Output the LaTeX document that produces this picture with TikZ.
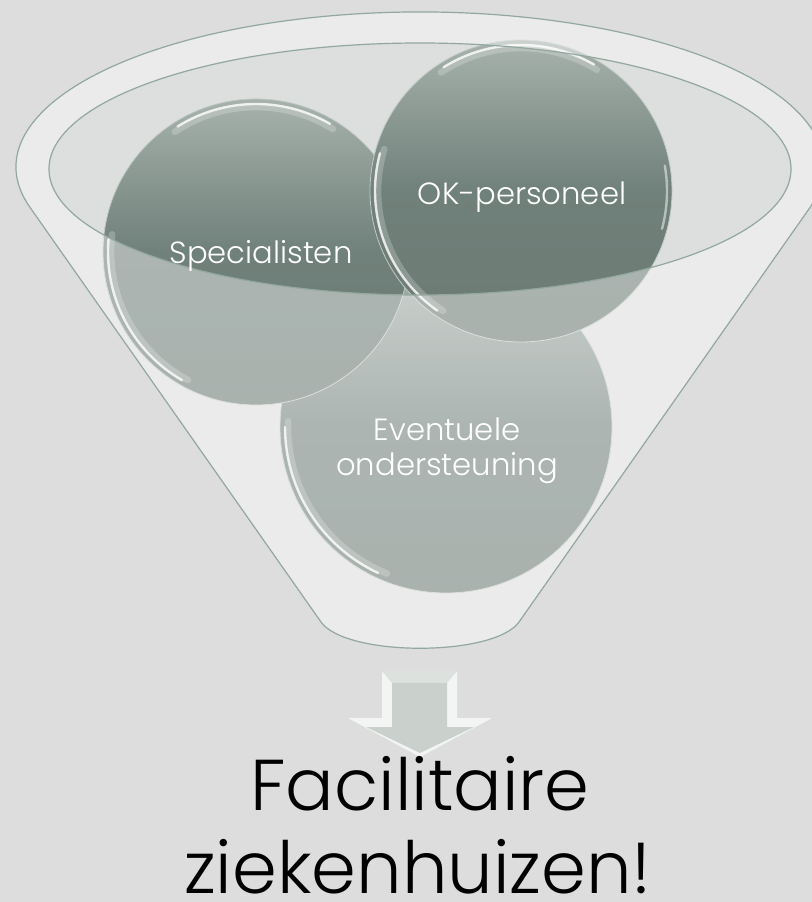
\documentclass[tikz,border=0pt]{standalone}
\usepackage{fontspec}
\setmainfont{Poppins}[UprightFont={* Light}]
\definecolor{bg}{HTML}{DDDDDD}
\definecolor{inside}{HTML}{DCDFDD}
\definecolor{bubtop}{HTML}{A7B2AC}
\definecolor{bubmid}{HTML}{70807A}
\definecolor{bubbot}{HTML}{6C7B73}
\definecolor{edgecol}{HTML}{92A79E}
\definecolor{arrface}{HTML}{CAD1CD}
\definecolor{arrtop}{HTML}{DCE1DE}
\definecolor{arrbevel}{HTML}{F3F5F4}
\begin{document}
\begin{tikzpicture}[x=0.75pt,y=-0.75pt,
  bubble/.style={circle, inner sep=0pt, outer sep=0pt, draw=bubtop!70!white, line width=0.6pt,
    top color=bubtop, bottom color=bubbot, middle color=bubmid},
  hl/.style={draw=white, line width=1.8pt, opacity=0.8, line cap=round},
  glow/.style={draw=white, line width=5pt, opacity=0.22, line cap=round},
  edge/.style={draw=edgecol, line width=0.9pt},
  clabel/.style={text=white, inner sep=0pt, font=\fontsize{23}{26}\selectfont},
  big/.style={text=black, inner sep=0pt, font=\fontsize{54}{60}\selectfont}]
\useasboundingbox (0,0) rectangle (812,902);
\clip (0,0) rectangle (812,902);
\fill[bg] (0,0) rectangle (812,902);

% inside of the funnel opening
\fill[inside] (420,169) ellipse [x radius=371, y radius=126];

% circles
\node[bubble, minimum size=249pt] (ev) at (446,427) {};
\draw[glow] ([shift={(182:158)}]ev.center) arc[start angle=182, end angle=112, radius=158];
\draw[hl] ([shift={(180:161)}]ev.center) arc[start angle=180, end angle=115, radius=161];
\node[bubble, minimum size=229.5pt] (spec) at (256,252) {};
\draw[glow] ([shift={(236:145)}]spec.center) arc[start angle=236, end angle=302, radius=145];
\draw[hl] ([shift={(238:148)}]spec.center) arc[start angle=238, end angle=300, radius=148];
\draw[glow] ([shift={(187:145)}]spec.center) arc[start angle=187, end angle=118, radius=145];
\draw[hl] ([shift={(185:148)}]spec.center) arc[start angle=185, end angle=120, radius=148];
\node[bubble, minimum size=226.5pt] (ok) at (521,191) {};
\draw[glow] ([shift={(236:143)}]ok.center) arc[start angle=236, end angle=302, radius=143];
\draw[hl] ([shift={(238:146)}]ok.center) arc[start angle=238, end angle=300, radius=146];
\draw[glow] ([shift={(197:143)}]ok.center) arc[start angle=197, end angle=123, radius=143];
\draw[hl] ([shift={(195:146)}]ok.center) arc[start angle=195, end angle=125, radius=146];
\draw[hl, opacity=0.5] ([shift={(350:146)}]ok.center) arc[start angle=350, end angle=375, radius=146];

% translucent front of the funnel
\fill[white, fill opacity=0.42, even odd rule]
  (29.8,207.1) arc[start angle=165, end angle=375, x radius=404, y radius=155]
  -- (519,622) .. controls (494,657) and (346,657) .. (321,622) -- cycle
  (420,169) ellipse [x radius=371, y radius=126];

% outlines
\draw[edge] (29.8,207.1) arc[start angle=165, end angle=375, x radius=404, y radius=155]
  -- (519,622) .. controls (494,657) and (346,657) .. (321,622) -- cycle;
\draw[edge] (420,169) ellipse [x radius=371, y radius=126];

% labels in the circles
\node[clabel, anchor=base] (spect) at (261,263) {Specialisten};
\node[clabel, anchor=base] (okt) at (522,205) {OK-personeel};
\node[clabel, anchor=base] (ev1) at (447,440) {Eventuele};
\node[clabel, anchor=base] (ev2) at (447,475) {ondersteuning};

% arrow
\fill[arrbevel] (382,671) -- (457,671) -- (457,718) -- (492,718) -- (420,757) -- (348,718) -- (382,718) -- cycle;
\fill[arrtop] (382,671) -- (457,671) -- (447,683) -- (392,683) -- cycle;
\fill[arrface] (392,683) -- (447,683) -- (447,727) -- (474,727) -- (420,753) -- (366,727) -- (392,727) -- cycle;

% bottom text
\node[big, anchor=base] (f1) at (420,810) {Facilitaire};
\node[big, anchor=base] (f2) at (418,893) {ziekenhuizen!};
\end{tikzpicture}
\end{document}
